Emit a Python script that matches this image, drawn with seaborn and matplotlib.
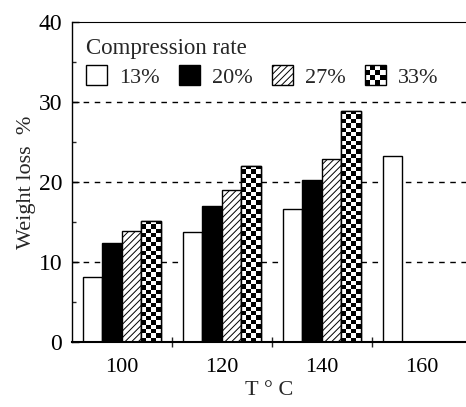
import numpy as np
import pandas as pd
import matplotlib
matplotlib.use("Agg")
import matplotlib.pyplot as plt
import seaborn as sns
from matplotlib.patches import Rectangle, Patch
from matplotlib.legend_handler import HandlerBase
from matplotlib.ticker import MultipleLocator, FixedLocator

# Weight loss (%)
temperatures = ["100", "120", "140", "160"]
rates = ["13%", "20%", "27%", "33%"]
loss_13 = [8.2, 13.7, 16.6, 23.2]
loss_20 = [12.4, 17.0, 20.2, None]
loss_27 = [13.9, 19.0, 22.9, None]
loss_33 = [15.1, 22.0, 28.9, None]

rows = []
for rate, vals in zip(rates, [loss_13, loss_20, loss_27, loss_33]):
    for t, v in zip(temperatures, vals):
        if v is not None:
            rows.append({"T": t, "rate": rate, "loss": v})
df = pd.DataFrame(rows)

sns.set_style("ticks")
plt.rcParams["font.family"] = ["Liberation Serif", "DejaVu Serif"]
plt.rcParams["hatch.linewidth"] = 0.7

fig = plt.figure(figsize=(4.66, 4.07), dpi=100)
ax = fig.add_axes([0.1545, 0.159, 0.8455, 0.7877])

sns.barplot(data=df, x="T", y="loss", hue="rate", order=temperatures,
            hue_order=rates, width=0.78, legend=False, ax=ax,
            edgecolor="black", linewidth=1.0, saturation=1)

ax.set_xlim(-0.5, 3.44)
ax.set_ylim(0, 40)

# style bars per compression rate
for k, cont in enumerate(ax.containers):
    for bar in cont:
        bar.set_edgecolor("black")
        bar.set_linewidth(1.0)
        if k == 1:
            bar.set_facecolor("black")
        else:
            bar.set_facecolor("white")
        if k == 2:
            bar.set_hatch("/////")

# checkerboard fill for the 33% bars
fig.canvas.draw()
cell_px = 4.4
for bar in ax.containers[3]:
    x0, y0 = bar.get_x(), bar.get_y()
    w, h = bar.get_width(), bar.get_height()
    if not np.isfinite(h) or h <= 0:
        continue
    p0 = ax.transData.transform((x0, y0))
    p1 = ax.transData.transform((x0 + w, y0 + h))
    nx = max(1, int(round(abs(p1[0] - p0[0]) / cell_px)))
    ny = max(1, int(round(abs(p1[1] - p0[1]) / cell_px)))
    ii, jj = np.indices((ny, nx))
    board = ((ii + jj) % 2).astype(float)
    im = ax.imshow(board, extent=(x0, x0 + w, y0, y0 + h), origin="lower",
                   cmap="gray", vmin=0, vmax=1, aspect="auto",
                   interpolation="nearest", zorder=bar.get_zorder() + 0.1)
    im.set_clip_path(bar)
    # outline on top of the pattern
    ax.add_patch(Rectangle((x0, y0), w, h, facecolor="none", edgecolor="black",
                           linewidth=1.0, zorder=bar.get_zorder() + 0.2))

ax.set_xlim(-0.5, 3.44)
ax.set_ylim(0, 40)

# dashed grid lines
for yv in [10, 20, 30]:
    ax.axhline(yv, color="black", linestyle=(0, (4, 4)), linewidth=1.0, zorder=0.5)

# spines
ax.spines["right"].set_visible(False)
ax.spines["top"].set_linewidth(0.8)
ax.spines["left"].set_linewidth(1.0)
ax.spines["bottom"].set_linewidth(1.5)
for s in ax.spines.values():
    s.set_color("black")

ax.yaxis.set_major_locator(MultipleLocator(10))
ax.yaxis.set_minor_locator(MultipleLocator(5))
ax.tick_params(axis="y", which="major", direction="in", length=5, width=1,
               labelsize=17, pad=7, colors="black")
ax.tick_params(axis="y", which="minor", direction="in", length=3, width=1)
ax.xaxis.set_minor_locator(FixedLocator([0.5, 1.5, 2.5, 3.5]))
ax.tick_params(axis="x", which="major", length=0, labelsize=16, pad=11,
               colors="black")
ax.tick_params(axis="x", which="minor", direction="inout", length=7, width=1)

ax.set_xlabel("T ° C", fontsize=16, labelpad=3)
ax.set_ylabel("Weight loss  %", fontsize=16, labelpad=2)


class CheckerHandler(HandlerBase):
    def create_artists(self, legend, orig_handle, xdescent, ydescent,
                       width, height, fontsize, trans):
        arts = [Rectangle((-xdescent, -ydescent), width, height,
                          facecolor="white", edgecolor="black", lw=1.0,
                          transform=trans)]
        n = 4
        cw, ch = width / n, height / n
        for i in range(n):
            for j in range(n):
                if (i + j) % 2 == 0:
                    arts.append(Rectangle((-xdescent + j * cw, -ydescent + i * ch),
                                          cw, ch, facecolor="black", lw=0,
                                          transform=trans))
        return arts


handles = [
    Patch(facecolor="white", edgecolor="black", linewidth=1.0),
    Patch(facecolor="black", edgecolor="black", linewidth=1.0),
    Patch(facecolor="white", edgecolor="black", linewidth=1.0, hatch="/////"),
    Patch(facecolor="white", edgecolor="black", linewidth=1.0),
]
leg = ax.legend(handles, rates, title="Compression rate", ncol=4,
                loc="upper left", bbox_to_anchor=(0.035, 0.95),
                frameon=False, fontsize=16, title_fontsize=16.5,
                alignment="left", handlelength=0.95, handleheight=0.95,
                handletextpad=0.55, columnspacing=0.85, borderpad=0,
                borderaxespad=0, labelspacing=0.3,
                handler_map={handles[3]: CheckerHandler()})

fig.savefig("out.png", dpi=100)
